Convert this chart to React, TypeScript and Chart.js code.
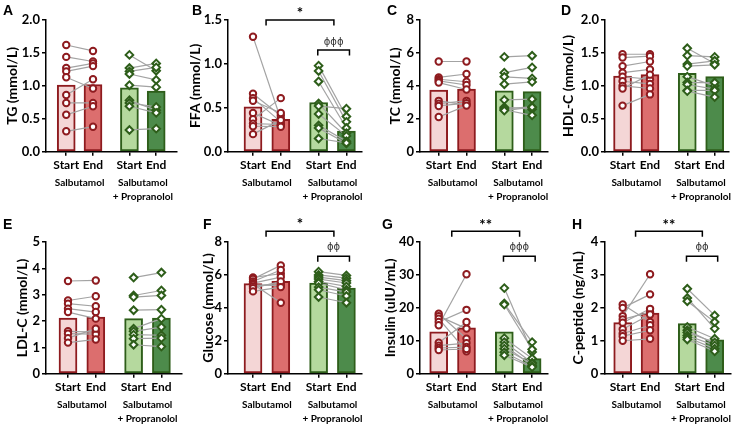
import React, { useEffect, useRef } from 'react';
import { Chart, registerables } from 'chart.js';

Chart.register(...registerables);

const FONT = 'Lato, "Open Sans", sans-serif';

// ---- shared axis content ----
const xTickValues = [0, 1, 2.36, 3.36];
const xTickLabels = ['Start', 'End', 'Start', 'End'];
const groupCenters = [0.5, 2.86];
const groupLabels: (string | string[])[] = ['Salbutamol', ['Salbutamol', '+ Propranolol']];

// ---- A: TG ----
const tgSalStart = [1.62, 1.44, 1.27, 1.22, 1.13, 0.86, 0.74, 0.56, 0.31];
const tgSalEnd = [1.53, 1.37, 1.34, 1.30, 0.96, 1.10, 0.74, 0.69, 0.38];
const tgProStart = [1.47, 1.27, 1.22, 1.18, 1.01, 0.78, 0.74, 0.69, 0.33];
const tgProEnd = [1.23, 1.34, 1.28, 1.09, 0.98, 0.63, 0.68, 0.59, 0.35];
const tgMeans = [1.01, 1.02, 0.97, 0.92];

// ---- B: FFA ----
const ffaSalStart = [1.31, 0.66, 0.61, 0.58, 0.44, 0.37, 0.32, 0.29, 0.20];
const ffaSalEnd = [0.37, 0.41, 0.34, 0.44, 0.30, 0.61, 0.31, 0.285, 0.36];
const ffaProStart = [0.98, 0.92, 0.80, 0.55, 0.52, 0.43, 0.30, 0.27, 0.15];
const ffaProEnd = [0.40, 0.34, 0.27, 0.21, 0.49, 0.18, 0.12, 0.095, 0.10];
const ffaMeans = [0.51, 0.37, 0.56, 0.235];

// ---- C: TC ----
const tcSalStart = [5.48, 4.51, 4.40, 4.30, 4.20, 3.09, 2.92, 2.78, 2.11];
const tcSalEnd = [5.48, 4.72, 4.25, 4.05, 3.78, 2.85, 3.09, 2.95, 2.80];
const tcProStart = [5.76, 4.80, 4.55, 4.10, 3.15, 2.70, 2.62, 2.55, 2.50];
const tcProEnd = [5.83, 5.12, 4.45, 4.24, 3.19, 2.58, 2.72, 2.21, 2.70];
const tcMeans = [3.74, 3.80, 3.70, 3.65];

// ---- D: HDL-C ----
const hdlSalStart = [1.48, 1.43, 1.30, 1.20, 1.14, 1.07, 1.00, 0.96, 0.70];
const hdlSalEnd = [1.48, 1.45, 1.37, 1.25, 1.10, 1.03, 0.96, 1.17, 0.87];
const hdlProStart = [1.57, 1.46, 1.33, 1.30, 1.14, 1.05, 1.02, 0.93, 0.92];
const hdlProEnd = [1.34, 1.44, 1.38, 1.32, 1.00, 1.05, 0.95, 0.93, 0.83];
const hdlMeans = [1.15, 1.17, 1.19, 1.14];

// ---- E: LDL-C ----
const ldlSalStart = [3.52, 2.78, 2.66, 2.47, 2.34, 1.61, 1.52, 1.35, 1.18];
const ldlSalEnd = [3.54, 2.94, 2.56, 2.34, 2.09, 1.58, 1.50, 1.71, 1.30];
const ldlProStart = [3.65, 2.97, 2.91, 2.41, 1.71, 1.61, 1.48, 1.33, 1.10];
const ldlProEnd = [3.84, 3.16, 2.97, 2.43, 2.09, 1.77, 1.46, 1.35, 1.03];
const ldlMeans = [2.11, 2.15, 2.09, 2.11];

// ---- F: Glucose ----
const gluSalStart = [5.85, 5.75, 5.60, 5.50, 5.45, 5.40, 5.30, 5.20, 5.00];
const gluSalEnd = [6.07, 6.58, 6.30, 5.87, 4.31, 5.35, 5.50, 5.60, 5.26];
const gluProStart = [6.20, 6.00, 5.87, 5.75, 5.60, 5.50, 5.26, 5.10, 4.66];
const gluProEnd = [5.97, 5.80, 5.65, 5.51, 5.30, 5.10, 4.96, 4.72, 4.31];
const gluMeans = [5.47, 5.61, 5.51, 5.20];

// ---- G: Insulin ----
const insSalStart = [18.2, 17.5, 16.7, 15.7, 14.7, 9.4, 8.5, 7.8, 7.2];
const insSalEnd = [10.6, 13.7, 6.8, 19.4, 30.2, 15.7, 9.3, 8.1, 7.5];
const insProStart = [26.0, 21.3, 21.0, 10.8, 9.6, 8.6, 7.6, 6.5, 5.6];
const insProEnd = [6.6, 9.6, 7.4, 4.6, 3.3, 2.5, 3.0, 2.2, 2.0];
const insMeans = [12.7, 13.9, 12.7, 4.6];

// ---- H: C-peptide ----
const cpSalStart = [2.10, 2.00, 1.75, 1.65, 1.55, 1.35, 1.22, 1.14, 1.00];
const cpSalEnd = [1.57, 2.41, 3.02, 1.87, 1.97, 1.80, 1.47, 1.32, 1.06];
const cpProStart = [2.58, 2.30, 2.20, 1.42, 1.32, 1.25, 1.16, 1.10, 1.04];
const cpProEnd = [1.77, 1.37, 1.57, 1.06, 0.91, 0.95, 0.86, 0.76, 0.68];
const cpMeans = [1.55, 1.84, 1.52, 1.03];

const COLORS = {
  salStartFill: '#f4d6d6',
  salEndFill: '#dc6e6e',
  salBorder: '#8e1b1f',
  proStartFill: '#b5d99e',
  proEndFill: '#4d8b4b',
  proBorder: '#2e5e1a',
  pair: '#a3a3a3',
};

type Bracket = { x1: number; x2: number; y: number; label: string; ly: number; kind: 'star' | 'phi' };

type Panel = {
  letter: string; letterX: number; letterY: number;
  left: number; right: number; top: number; height: number; padTop: number; plotBottom: number;
  axisX: number; start1: number; plotRight: number;
  yMax: number; yStep: number; decimals: number; title: string;
  means: number[]; salStart: number[]; salEnd: number[]; proStart: number[]; proEnd: number[];
  brackets: Bracket[];
};

const UNIT = 27.8; // px per x unit

const TOP = { top: 0, height: 212, padTop: 20, plotBottom: 151.7 };
const BOT = { top: 212, height: 213, padTop: 30, plotBottom: 161.7 };

const panels: Panel[] = [
  { letter: 'A', letterX: 3, letterY: 3, left: 0, right: 183, ...TOP, axisX: 46, start1: 67, plotRight: 182,
    yMax: 2, yStep: 0.5, decimals: 1, title: 'TG (mmol/L)',
    means: tgMeans, salStart: tgSalStart, salEnd: tgSalEnd, proStart: tgProStart, proEnd: tgProEnd, brackets: [] },
  { letter: 'B', letterX: 192, letterY: 3, left: 183, right: 382, ...TOP, axisX: 228, start1: 253, plotRight: 362,
    yMax: 1.5, yStep: 0.5, decimals: 1, title: 'FFA (mmol/L)',
    means: ffaMeans, salStart: ffaSalStart, salEnd: ffaSalEnd, proStart: ffaProStart, proEnd: ffaProEnd,
    brackets: [
      { x1: 0.47, x2: 2.91, y: 1.5, label: '*', ly: 1.614, kind: 'star' },
      { x1: 2.33, x2: 3.47, y: 1.158, label: 'ϕϕϕ', ly: 1.245, kind: 'phi' },
    ] },
  { letter: 'C', letterX: 387, letterY: 3, left: 383, right: 555, ...TOP, axisX: 420, start1: 438.7, plotRight: 548,
    yMax: 8, yStep: 2, decimals: 0, title: 'TC (mmol/L)',
    means: tcMeans, salStart: tcSalStart, salEnd: tcSalEnd, proStart: tcProStart, proEnd: tcProEnd, brackets: [] },
  { letter: 'D', letterX: 561, letterY: 3, left: 556, right: 737, ...TOP, axisX: 605, start1: 622.8, plotRight: 730,
    yMax: 2, yStep: 0.5, decimals: 1, title: 'HDL-C (mmol/L)',
    means: hdlMeans, salStart: hdlSalStart, salEnd: hdlSalEnd, proStart: hdlProStart, proEnd: hdlProEnd, brackets: [] },
  { letter: 'E', letterX: 3, letterY: 217, left: 10, right: 195, ...BOT, axisX: 46, start1: 68, plotRight: 182,
    yMax: 5, yStep: 1, decimals: 0, title: 'LDL-C (mmol/L)',
    means: ldlMeans, salStart: ldlSalStart, salEnd: ldlSalEnd, proStart: ldlProStart, proEnd: ldlProEnd, brackets: [] },
  { letter: 'F', letterX: 203, letterY: 217, left: 196, right: 377, ...BOT, axisX: 228, start1: 253, plotRight: 362,
    yMax: 8, yStep: 2, decimals: 0, title: 'Glucose (mmol/L)',
    means: gluMeans, salStart: gluSalStart, salEnd: gluSalEnd, proStart: gluProStart, proEnd: gluProEnd,
    brackets: [
      { x1: 0.47, x2: 2.91, y: 8.65, label: '*', ly: 9.26, kind: 'star' },
      { x1: 2.33, x2: 3.47, y: 7.13, label: 'ϕϕ', ly: 7.7, kind: 'phi' },
    ] },
  { letter: 'G', letterX: 382, letterY: 217, left: 378, right: 565, ...BOT, axisX: 420, start1: 438.7, plotRight: 548,
    yMax: 40, yStep: 10, decimals: 0, title: 'Insulin (uIU/mL)',
    means: insMeans, salStart: insSalStart, salEnd: insSalEnd, proStart: insProStart, proEnd: insProEnd,
    brackets: [
      { x1: 0.47, x2: 2.91, y: 43.25, label: '**', ly: 46.1, kind: 'star' },
      { x1: 2.33, x2: 3.47, y: 35.7, label: 'ϕϕϕ', ly: 38.5, kind: 'phi' },
    ] },
  { letter: 'H', letterX: 572, letterY: 217, left: 566, right: 737, ...BOT, axisX: 604.3, start1: 623, plotRight: 733,
    yMax: 4, yStep: 1, decimals: 0, title: 'C-peptide (ng/mL)',
    means: cpMeans, salStart: cpSalStart, salEnd: cpSalEnd, proStart: cpProStart, proEnd: cpProEnd,
    brackets: [
      { x1: 0.47, x2: 2.91, y: 4.325, label: '**', ly: 4.61, kind: 'star' },
      { x1: 2.33, x2: 3.47, y: 3.57, label: 'ϕϕ', ly: 3.85, kind: 'phi' },
    ] },
];

const bracketPlugin = {
  id: 'brackets',
  afterDraw(chart: any, _args: any, opts: any) {
    const items: Bracket[] = (opts && opts.items) || [];
    const { ctx } = chart;
    const xs = chart.scales.x;
    const ys = chart.scales.y;
    ctx.save();
    items.forEach((b) => {
      const x1 = xs.getPixelForValue(b.x1);
      const x2 = xs.getPixelForValue(b.x2);
      const y = ys.getPixelForValue(b.y);
      ctx.strokeStyle = '#000';
      ctx.lineWidth = 1.5;
      ctx.beginPath();
      ctx.moveTo(x1, y + 5.5);
      ctx.lineTo(x1, y);
      ctx.lineTo(x2, y);
      ctx.lineTo(x2, y + 5.5);
      ctx.stroke();
      ctx.textAlign = 'center';
      ctx.textBaseline = 'middle';
      if (b.kind === 'star') {
        ctx.fillStyle = '#000';
        ctx.font = `bold 15px ${FONT}`;
        ctx.fillText(b.label, (x1 + x2) / 2, ys.getPixelForValue(b.ly) + 3);
      } else {
        ctx.fillStyle = '#333';
        ctx.font = `10px "DejaVu Sans"`;
        ctx.fillText(b.label, (x1 + x2) / 2, ys.getPixelForValue(b.ly));
      }
    });
    ctx.restore();
  },
};

function buildConfig(p: Panel): any {
  const width = p.right - p.left;
  const xMin = -(p.start1 - p.axisX) / UNIT;
  const xMax = (p.plotRight - p.start1) / UNIT;
  const bottomSpace = p.height - p.plotBottom;
  const xHeight = 20;

  const datasets: any[] = [
    {
      type: 'bar',
      data: xTickValues.map((x, i) => ({ x, y: p.means[i] })),
      backgroundColor: [COLORS.salStartFill, COLORS.salEndFill, COLORS.proStartFill, COLORS.proEndFill],
      borderColor: [COLORS.salBorder, COLORS.salBorder, COLORS.proBorder, COLORS.proBorder],
      borderWidth: 2,
      borderSkipped: false,
      barThickness: 18,
      order: 10,
    },
  ];
  const pairs = (starts: number[], ends: number[], xa: number, xb: number) =>
    starts.forEach((s, i) =>
      datasets.push({
        type: 'line',
        data: [{ x: xa, y: s }, { x: xb, y: ends[i] }],
        borderColor: COLORS.pair,
        borderWidth: 1.2,
        pointRadius: 0,
        fill: false,
        order: 5,
      })
    );
  pairs(p.salStart, p.salEnd, xTickValues[0], xTickValues[1]);
  pairs(p.proStart, p.proEnd, xTickValues[2], xTickValues[3]);

  const pts = (vals: number[], x: number, style: string, color: string, r: number) =>
    datasets.push({
      type: 'line',
      showLine: false,
      data: vals.map((v) => ({ x, y: v })),
      pointStyle: style,
      pointRadius: r,
      pointBorderWidth: 2,
      pointBorderColor: color,
      pointBackgroundColor: '#ffffff',
      order: 1,
    });
  pts(p.salStart, xTickValues[0], 'circle', COLORS.salBorder, 3.2);
  pts(p.salEnd, xTickValues[1], 'circle', COLORS.salBorder, 3.2);
  pts(p.proStart, xTickValues[2], 'rectRot', COLORS.proBorder, 3.8);
  pts(p.proEnd, xTickValues[3], 'rectRot', COLORS.proBorder, 3.8);

  return {
    type: 'bar',
    data: { datasets },
    plugins: [bracketPlugin],
    options: {
      responsive: false,
      animation: false,
      devicePixelRatio: 1,
      events: [],
      layout: { padding: { top: p.padTop, left: 0, right: p.right - p.plotRight, bottom: 0 } },
      plugins: {
        legend: { display: false },
        tooltip: { enabled: false },
        brackets: { items: p.brackets },
      },
      scales: {
        x: {
          type: 'linear',
          position: 'bottom',
          weight: 0,
          min: xMin,
          max: xMax,
          offset: false,
          afterBuildTicks: (s: any) => { s.ticks = xTickValues.map((v) => ({ value: v })); },
          afterFit: (s: any) => { s.height = xHeight; },
          ticks: {
            autoSkip: false, maxRotation: 0, minRotation: 0, padding: 2, color: '#000',
            font: { family: FONT, size: 12, weight: 'bold' },
            callback: (_v: any, i: number) => xTickLabels[i],
          },
          grid: { display: true, drawOnChartArea: false, drawTicks: true, tickLength: 4, offset: false, color: '#000', lineWidth: 1.5 },
          border: { display: true, color: '#000', width: 1.5 },
        },
        x2: {
          type: 'linear',
          position: 'bottom',
          weight: 1,
          min: xMin,
          max: xMax,
          offset: false,
          afterBuildTicks: (s: any) => { s.ticks = groupCenters.map((v) => ({ value: v })); },
          afterFit: (s: any) => { s.height = bottomSpace - xHeight; },
          ticks: {
            autoSkip: false, maxRotation: 0, minRotation: 0, padding: 4, color: '#000',
            font: { family: FONT, size: 10, weight: 'bold', lineHeight: 1.4 },
            callback: (_v: any, i: number) => groupLabels[i],
          },
          grid: { display: false, drawTicks: false, offset: false },
          border: { display: false },
        },
        y: {
          type: 'linear',
          position: 'left',
          min: 0,
          max: p.yMax,
          afterFit: (s: any) => { s.width = p.axisX - p.left; },
          ticks: {
            stepSize: p.yStep, padding: 2, color: '#000',
            font: { family: FONT, size: 13, weight: 'bold' },
            callback: (v: any) => Number(v).toFixed(p.decimals),
          },
          grid: { display: true, drawOnChartArea: false, drawTicks: true, tickLength: 4, color: '#000', lineWidth: 1.5 },
          border: { display: true, color: '#000', width: 1.5 },
          title: {
            display: true, text: p.title, color: '#000',
            font: { family: FONT, size: 14, weight: 'bold' },
            padding: { top: 4, bottom: 4 },
          },
        },
      },
    },
  };
}

function PanelChart({ p }: { p: Panel }) {
  const ref = useRef<HTMLCanvasElement>(null);
  useEffect(() => {
    const chart = new Chart(ref.current as HTMLCanvasElement, buildConfig(p));
    return () => chart.destroy();
  }, [p]);
  const width = p.right - p.left;
  return (
    <canvas
      ref={ref}
      width={width}
      height={p.height}
      style={{ position: 'absolute', left: p.left, top: p.top, width, height: p.height }}
    />
  );
}

export default function App() {
  return (
    <div style={{ position: 'fixed', left: 0, top: 0, width: 737, height: 425, background: '#fff', overflow: 'hidden' }}>
      {panels.map((p) => (
        <PanelChart key={p.letter} p={p} />
      ))}
      {panels.map((p) => (
        <div
          key={'L' + p.letter}
          style={{
            position: 'absolute', left: p.letterX, top: p.letterY,
            font: 'bold 14px "Liberation Sans", Arial, sans-serif', lineHeight: '14px', color: '#000',
          }}
        >
          {p.letter}
        </div>
      ))}
    </div>
  );
}
